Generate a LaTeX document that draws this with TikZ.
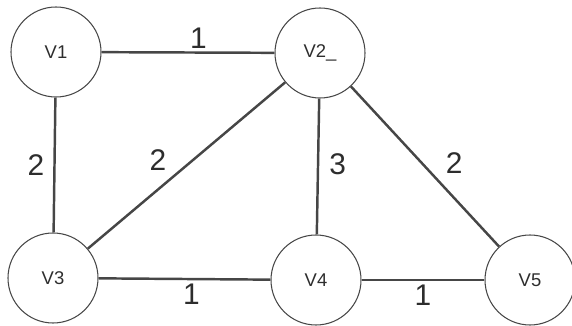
\documentclass[tikz,border=0pt]{standalone}
\usepackage{fontspec}
\setmainfont{Liberation Sans}
\usepackage{xcolor}
\definecolor{graphLine}{RGB}{70,70,70}
\definecolor{graphText}{RGB}{45,45,45}

\begin{document}
\begin{tikzpicture}[
  vertex/.style={circle, draw=graphLine, line width=0.6pt, minimum size=1.8cm, inner sep=0pt, text=graphText, font=\fontsize{10.5}{12}\selectfont},
  edge/.style={draw=graphLine, line width=1.4pt},
  weight/.style={text=graphText, inner sep=0pt, font=\fontsize{17}{19}\selectfont}
]
\useasboundingbox (0,0) rectangle (11.44,6.5);
%
\node[vertex] (v1) at (1.12,5.46) {V1};
\node[vertex] (v2) at (6.40,5.44) {V2\_};
\node[vertex] (v3) at (1.06,0.94) {V3};
\node[vertex] (v4) at (6.32,0.90) {V4};
\node[vertex] (v5) at (10.60,0.90) {V5};

%
\draw[edge] (v1) -- node[weight, pos=0.56, above=0.06cm] {1} (v2);
\draw[edge] (v1) -- node[weight, midway, left=0.18cm] {2} (v3);
\draw[edge] (v2) -- node[weight, pos=0.47, left=0.5cm] {2} (v3);
\draw[edge] (v2) -- node[weight, pos=0.48, right=0.2cm] {3} (v4);
\draw[edge] (v2) -- node[weight, pos=0.48, right=0.45cm] {2} (v5);
\draw[edge] (v3) -- node[weight, pos=0.54, below=0.08cm] {1} (v4);
\draw[edge] (v4) -- node[weight, midway, below=0.08cm] {1} (v5);
\end{tikzpicture}
\end{document}
